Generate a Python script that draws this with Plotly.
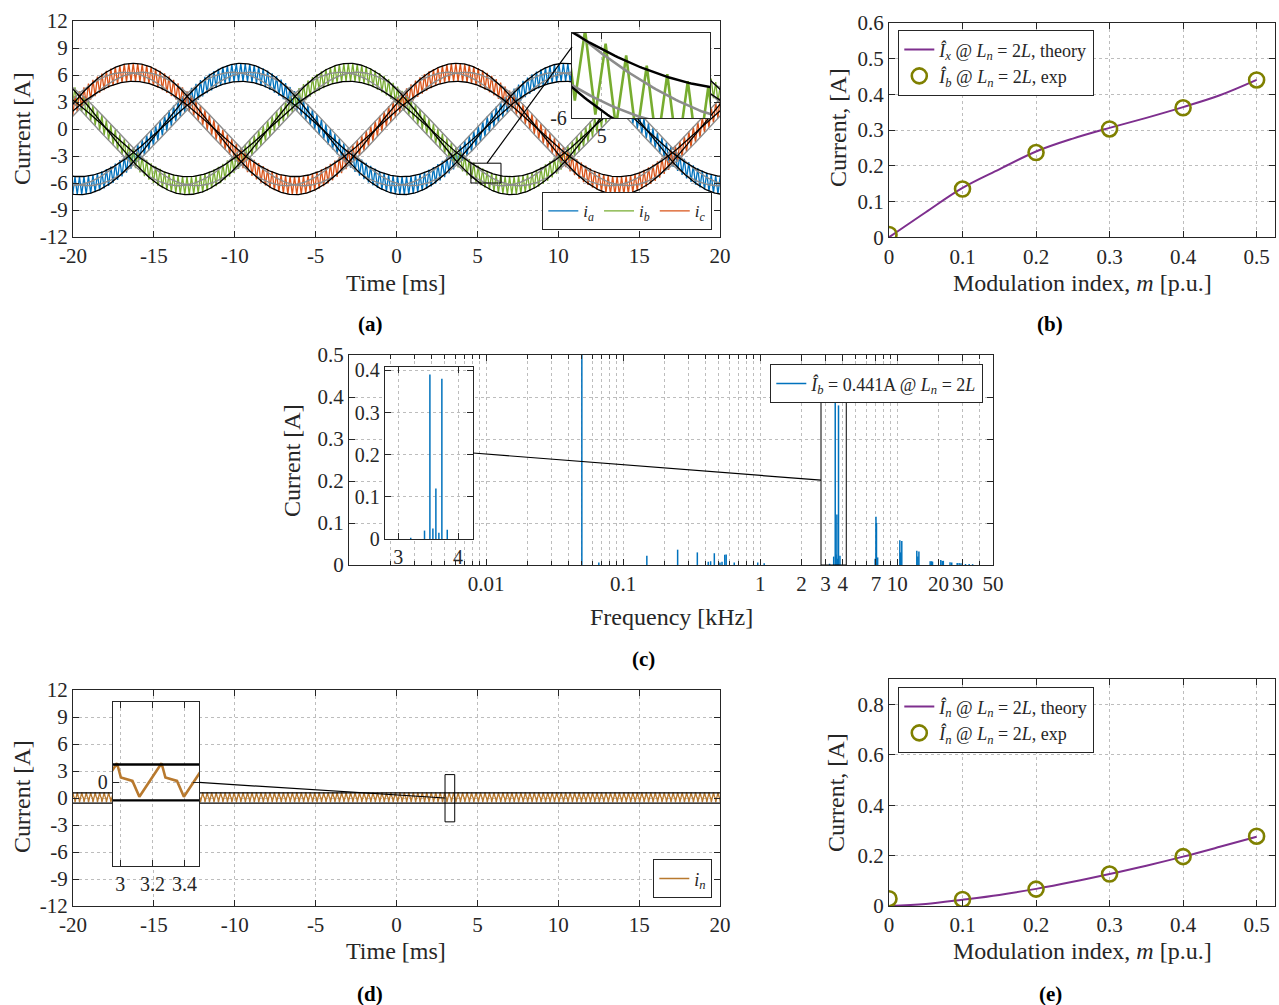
import numpy as np
import plotly.graph_objects as go

W, H = 1279, 1005
FONT = "Liberation Serif"
INK = "#262626"
GRID = "#bdbdbd"

# ---------------- (a) phase currents ----------------
PHASE_NAMES = ["<i>i</i><sub><i>a</i></sub>", "<i>i</i><sub><i>b</i></sub>", "<i>i</i><sub><i>c</i></sub>"]
PHASE_COLORS = ["#0072BD", "#77AC30", "#D95319"]
PHASE_PEAK_MS = [-9.6, -2.93, -16.27]      # time of positive peak of each phase
FUND_AMP_A = 6.3                            # fundamental amplitude
RIPPLE_AMP_A = 1.0                          # switching ripple half-band
FUND_PERIOD_MS = 20.0
SW_PERIOD_MS = 0.277
RIPPLE_SHAPE = [0.0, 1.0, 0.0, -1.0]        # one switching cycle (normalised)
GRAY_SHIFT_MS = 0.52
TIME_TICKS = [-20, -15, -10, -5, 0, 5, 10, 15, 20]
TIME_TICK_TEXT = ["-20", "-15", "-10", "-5", "0", "5", "10", "15", "20"]
CURRENT_TICKS = [-12, -9, -6, -3, 0, 3, 6, 9, 12]
CURRENT_TICK_TEXT = ["-12", "-9", "-6", "-3", "0", "3", "6", "9", "12"]
INSET_A_X = [4.6, 6.46]
INSET_A_Y = [-6.0, -3.8]

# ---------------- (b) ----------------
M_EXP = [0, 0.1, 0.2, 0.3, 0.4, 0.5]
IB_EXP = [0.008, 0.135, 0.237, 0.303, 0.362, 0.440]
M_THEORY = [0, 0.05, 0.10, 0.15, 0.20, 0.25, 0.30, 0.35, 0.40, 0.45, 0.50]
IX_THEORY = [0, 0.070, 0.138, 0.190, 0.240, 0.276, 0.306, 0.334, 0.364, 0.397, 0.440]
M_TICKS = [0, 0.1, 0.2, 0.3, 0.4, 0.5]
IB_TICKS = [0, 0.1, 0.2, 0.3, 0.4, 0.5, 0.6]

# ---------------- (c) spectrum ----------------
FREQ_KHZ = [0.05, 0.0665, 0.149, 0.25, 0.348, 0.418, 0.435, 0.463, 0.509, 0.527, 0.552, 0.565,
            0.647, 0.96, 1.07, 3.21, 3.44, 3.53, 3.58, 3.63, 3.68, 3.73, 3.82,
            6.9, 7.0, 7.06, 7.2, 10.45, 10.6, 10.8, 13.9, 14.15, 14.4,
            17.4, 17.8, 18.1, 20.8, 21.3, 21.7, 24.3, 25.0, 27.4, 28.3, 29.2, 31.5, 33.5, 35.5]
AMP_A = [6.3, 0.006, 0.022, 0.0365, 0.030, 0.008, 0.009, 0.028, 0.006, 0.008, 0.0245, 0.025,
         0.006, 0.006, 0.004, 0.003, 0.020, 0.390, 0.025, 0.120, 0.015, 0.380, 0.022,
         0.015, 0.115, 0.100, 0.018, 0.059, 0.030, 0.057, 0.034, 0.020, 0.032,
         0.009, 0.009, 0.008, 0.012, 0.0095, 0.010, 0.0063, 0.006, 0.005, 0.005, 0.004, 0.0024, 0.0025, 0.002]
FREQ_TICKS = [0.01, 0.1, 1, 2, 3, 4, 7, 10, 20, 30, 50]
FREQ_TICK_TEXT = ["0.01", "0.1", "1", "2", "3", "4", "7", "10", "20", "30", "50"]
FREQ_MINOR = [0.002, 0.003, 0.004, 0.005, 0.006, 0.007, 0.008, 0.009,
              0.02, 0.03, 0.04, 0.05, 0.06, 0.07, 0.08, 0.09,
              0.2, 0.3, 0.4, 0.5, 0.6, 0.7, 0.8, 0.9, 5, 6, 8, 9, 40]
SPEC_TICKS = [0, 0.1, 0.2, 0.3, 0.4, 0.5]
INSET_C_X = [2.78, 4.25]
INSET_C_Y = [0, 0.408]

# ---------------- (d) neutral current ----------------
NEUTRAL_CYCLE_OFFSET_MS = [0.0, 0.024, 0.061, 0.096, 0.139]
NEUTRAL_CYCLE_A = [0.62, 0.16, 0.11, 0.05, -0.46]
NEUTRAL_PERIOD_MS = 0.277
NEUTRAL_PEAK_MS = 2.98
NEUTRAL_BAND_A = [0.58, -0.58]
INSET_D_X = [2.955, 3.49]
INSET_D_Y = [-2.7, 2.6]

# ---------------- (e) ----------------
IN_EXP = [0.029, 0.026, 0.067, 0.127, 0.196, 0.277]
IN_THEORY = [0, 0.008, 0.025, 0.044, 0.068, 0.096, 0.127, 0.160, 0.196, 0.235, 0.275]
IN_TICKS = [0, 0.2, 0.4, 0.6, 0.8]

PURPLE = "#7E2F8E"
OLIVE = "#7F8000"
BROWN = "#B8792E"

# ---------------- layout boxes (pixels: x0, x1, y0, y1) ----------------
BOX = {
    "a": (73, 720, 21, 237),
    "b": (889, 1275, 22.7, 237.3),
    "c": (349, 993, 355, 565),
    "d": (73, 720, 690, 906),
    "e": (889, 1275, 679.3, 906),
    "ia": (572, 710, 33, 118),
    "ic": (385, 473, 367, 539),
    "id": (113, 199, 702, 866),
}


def dom(key):
    x0, x1, y0, y1 = BOX[key]
    return [x0 / W, x1 / W], [1 - y1 / H, 1 - y0 / H]


def to_paper(key, xr, yr, x, y, xlog=False):
    x0, x1, y0, y1 = BOX[key]
    if xlog:
        fx = (np.log10(x) - np.log10(xr[0])) / (np.log10(xr[1]) - np.log10(xr[0]))
    else:
        fx = (x - xr[0]) / (xr[1] - xr[0])
    fy = (y - yr[0]) / (yr[1] - yr[0])
    px = x0 + fx * (x1 - x0)
    py = y1 - fy * (y1 - y0)
    return px / W, 1 - py / H


fig = go.Figure()

# ---------------- (a) traces ----------------
w = 2 * np.pi / FUND_PERIOD_MS
step = SW_PERIOD_MS / len(RIPPLE_SHAPE)
t_rip = np.arange(-20.5, 20.5, step)
rip = np.resize(np.array(RIPPLE_SHAPE), len(t_rip))
t_s = np.linspace(-20.5, 20.5, 1200)

for name, col, tp in zip(PHASE_NAMES, PHASE_COLORS, PHASE_PEAK_MS):
    fig.add_trace(go.Scatter(x=t_rip, y=FUND_AMP_A * np.cos(w * (t_rip - tp)) + RIPPLE_AMP_A * rip,
                             mode="lines", line=dict(color=col, width=1.3), name=name,
                             legend="legend", xaxis="x", yaxis="y"))
for tp in PHASE_PEAK_MS:
    for sh in (GRAY_SHIFT_MS, -GRAY_SHIFT_MS):
        fig.add_trace(go.Scatter(x=t_s, y=FUND_AMP_A * np.cos(w * (t_s - tp + sh)), mode="lines",
                                 line=dict(color="#8c8c8c", width=1.4), showlegend=False,
                                 hoverinfo="skip", xaxis="x", yaxis="y"))
for tp in PHASE_PEAK_MS:
    for amp in (FUND_AMP_A + RIPPLE_AMP_A, FUND_AMP_A - RIPPLE_AMP_A):
        fig.add_trace(go.Scatter(x=t_s, y=amp * np.cos(w * (t_s - tp)), mode="lines",
                                 line=dict(color="black", width=1.3), showlegend=False,
                                 hoverinfo="skip", xaxis="x", yaxis="y"))
# zoom rectangle in (a)
fig.add_trace(go.Scatter(x=[INSET_A_X[0], INSET_A_X[1], INSET_A_X[1], INSET_A_X[0], INSET_A_X[0]],
                         y=[INSET_A_Y[0], INSET_A_Y[0], INSET_A_Y[1], INSET_A_Y[1], INSET_A_Y[0]],
                         mode="lines", line=dict(color="black", width=1), showlegend=False,
                         hoverinfo="skip", xaxis="x", yaxis="y"))

# inset (a): phase b only
tpb = PHASE_PEAK_MS[1]
fig.add_trace(go.Scatter(x=t_rip, y=FUND_AMP_A * np.cos(w * (t_rip - tpb)) + RIPPLE_AMP_A * rip,
                         mode="lines", line=dict(color=PHASE_COLORS[1], width=2.6), showlegend=False,
                         hoverinfo="skip", xaxis="x6", yaxis="y6"))
for sh in (GRAY_SHIFT_MS, -GRAY_SHIFT_MS):
    fig.add_trace(go.Scatter(x=t_s, y=FUND_AMP_A * np.cos(w * (t_s - tpb + sh)), mode="lines",
                             line=dict(color="#8c8c8c", width=2.6), showlegend=False,
                             hoverinfo="skip", xaxis="x6", yaxis="y6"))
for amp in (FUND_AMP_A + RIPPLE_AMP_A, FUND_AMP_A - RIPPLE_AMP_A):
    fig.add_trace(go.Scatter(x=t_s, y=amp * np.cos(w * (t_s - tpb)), mode="lines",
                             line=dict(color="black", width=2.4), showlegend=False,
                             hoverinfo="skip", xaxis="x6", yaxis="y6"))

# ---------------- (b) ----------------
b_theory = ("<i>Î</i><sub><i>x</i></sub> @ <i>L</i><sub><i>n</i></sub> = 2<i>L</i>, theory")
b_exp = ("<i>Î</i><sub><i>b</i></sub> @ <i>L</i><sub><i>n</i></sub> = 2<i>L</i>, exp")
fig.add_trace(go.Scatter(x=M_THEORY, y=IX_THEORY, mode="lines", line=dict(color=PURPLE, width=2, shape="spline"),
                         name=b_theory, legend="legend2", xaxis="x2", yaxis="y2"))
fig.add_trace(go.Scatter(x=M_EXP, y=IB_EXP, mode="markers",
                         marker=dict(symbol="circle-open", size=15, color=OLIVE, line=dict(width=2.6, color=OLIVE)),
                         name=b_exp, legend="legend2", xaxis="x2", yaxis="y2"))

# ---------------- (c) spectrum ----------------
sx, sy = [], []
for f, a in zip(FREQ_KHZ, AMP_A):
    sx += [f, f, None]
    sy += [0, a, None]
c_name = "<i>Î</i><sub><i>b</i></sub> = 0.441A @ <i>L</i><sub><i>n</i></sub> = 2<i>L</i>"
fig.add_trace(go.Scatter(x=sx, y=sy, mode="lines", line=dict(color="#0072BD", width=1.5),
                         name=c_name, legend="legend3", xaxis="x3", yaxis="y3"))
fig.add_trace(go.Scatter(x=[INSET_C_X[0], INSET_C_X[1], INSET_C_X[1], INSET_C_X[0], INSET_C_X[0]],
                         y=[0, 0, 0.4, 0.4, 0], mode="lines", line=dict(color="black", width=1),
                         showlegend=False, hoverinfo="skip", xaxis="x3", yaxis="y3"))
fig.add_trace(go.Scatter(x=sx, y=sy, mode="lines", line=dict(color="#0072BD", width=1.5),
                         showlegend=False, hoverinfo="skip", xaxis="x7", yaxis="y7"))

# ---------------- (d) neutral current ----------------
n_first = int(np.floor((-21 - NEUTRAL_PEAK_MS) / NEUTRAL_PERIOD_MS))
n_last = int(np.ceil((21 - NEUTRAL_PEAK_MS) / NEUTRAL_PERIOD_MS))
tn, yn = [], []
for k in range(n_first, n_last + 1):
    base = NEUTRAL_PEAK_MS + k * NEUTRAL_PERIOD_MS
    for off, v in zip(NEUTRAL_CYCLE_OFFSET_MS, NEUTRAL_CYCLE_A):
        tn.append(base + off)
        yn.append(v)
fig.add_trace(go.Scatter(x=tn, y=yn, mode="lines", line=dict(color=BROWN, width=1.3),
                         name="<i>i</i><sub><i>n</i></sub>", legend="legend4", xaxis="x4", yaxis="y4"))
for lvl in NEUTRAL_BAND_A:
    fig.add_trace(go.Scatter(x=[-20, 20], y=[lvl, lvl], mode="lines", line=dict(color="black", width=1.3),
                             showlegend=False, hoverinfo="skip", xaxis="x4", yaxis="y4"))
fig.add_trace(go.Scatter(x=[3.0, 3.6, 3.6, 3.0, 3.0], y=[-2.65, -2.65, 2.6, 2.6, -2.65], mode="lines",
                         line=dict(color="black", width=1), showlegend=False, hoverinfo="skip",
                         xaxis="x4", yaxis="y4"))
fig.add_trace(go.Scatter(x=tn, y=yn, mode="lines", line=dict(color=BROWN, width=2.6),
                         showlegend=False, hoverinfo="skip", xaxis="x8", yaxis="y8"))
for lvl in NEUTRAL_BAND_A:
    fig.add_trace(go.Scatter(x=[2.9, 3.6], y=[lvl, lvl], mode="lines", line=dict(color="black", width=2.4),
                             showlegend=False, hoverinfo="skip", xaxis="x8", yaxis="y8"))

# ---------------- (e) ----------------
e_theory = "<i>Î</i><sub><i>n</i></sub> @ <i>L</i><sub><i>n</i></sub> = 2<i>L</i>, theory"
e_exp = "<i>Î</i><sub><i>n</i></sub> @ <i>L</i><sub><i>n</i></sub> = 2<i>L</i>, exp"
fig.add_trace(go.Scatter(x=M_THEORY, y=IN_THEORY, mode="lines", line=dict(color=PURPLE, width=2, shape="spline"),
                         name=e_theory, legend="legend5", xaxis="x5", yaxis="y5"))
fig.add_trace(go.Scatter(x=M_EXP, y=IN_EXP, mode="markers",
                         marker=dict(symbol="circle-open", size=15, color=OLIVE, line=dict(width=2.6, color=OLIVE)),
                         name=e_exp, legend="legend5", xaxis="x5", yaxis="y5"))


# ---------------- axes ----------------
def axis(key, which, rng, tickvals, ticktext=None, size=21, **kw):
    dx, dy = dom(key)
    d = dict(domain=dx if which == "x" else dy, range=rng, showline=True, linecolor=INK, linewidth=1.3,
             mirror="ticks", ticks="inside", ticklen=6, tickcolor=INK, tickwidth=1.1,
             showgrid=True, gridcolor=GRID, griddash="dot", gridwidth=1, zeroline=False,
             tickmode="array", tickvals=tickvals, fixedrange=True, automargin=False,
             tickfont=dict(family=FONT, size=size, color=INK))
    if ticktext is not None:
        d["ticktext"] = ticktext
    d.update(kw)
    return d


lay = dict(
    width=W, height=H, margin=dict(l=0, r=0, t=0, b=0, pad=0, autoexpand=False), autosize=False,
    paper_bgcolor="white", plot_bgcolor="white",
    font=dict(family=FONT, color=INK),
    xaxis=axis("a", "x", [-20, 20], TIME_TICKS, TIME_TICK_TEXT, anchor="y"),
    yaxis=axis("a", "y", [-12, 12], CURRENT_TICKS, CURRENT_TICK_TEXT, anchor="x"),
    xaxis2=axis("b", "x", [0, 0.525], M_TICKS, anchor="y2"),
    yaxis2=axis("b", "y", [0, 0.6], IB_TICKS, anchor="x2"),
    xaxis3=axis("c", "x", [-3, np.log10(50)], FREQ_TICKS, FREQ_TICK_TEXT, anchor="y3", type="log",
                minor=dict(tickmode="array", tickvals=FREQ_MINOR, ticks="inside", ticklen=4, tickcolor=INK,
                           showgrid=True, gridcolor=GRID, griddash="dot", gridwidth=1)),
    yaxis3=axis("c", "y", [0, 0.5], SPEC_TICKS, anchor="x3"),
    xaxis4=axis("d", "x", [-20, 20], TIME_TICKS, TIME_TICK_TEXT, anchor="y4"),
    yaxis4=axis("d", "y", [-12, 12], CURRENT_TICKS, CURRENT_TICK_TEXT, anchor="x4"),
    xaxis5=axis("e", "x", [0, 0.525], M_TICKS, anchor="y5"),
    yaxis5=axis("e", "y", [0, 0.9], IN_TICKS, anchor="x5"),
    xaxis6=axis("ia", "x", INSET_A_X, [5], ["5"], anchor="y6", size=20),
    yaxis6=axis("ia", "y", INSET_A_Y, [-6], ["-6"], anchor="x6", size=20),
    xaxis7=axis("ic", "x", INSET_C_X, [3, 4], anchor="y7", size=20),
    yaxis7=axis("ic", "y", INSET_C_Y, [0, 0.1, 0.2, 0.3, 0.4], anchor="x7", size=20),
    xaxis8=axis("id", "x", INSET_D_X, [3, 3.2, 3.4], anchor="y8", size=20),
    yaxis8=axis("id", "y", INSET_D_Y, [0], anchor="x8", size=20),
)


def leg(x, y, xa, ya, orient="v", size=18, **kw):
    d = dict(x=x, y=y, xanchor=xa, yanchor=ya, orientation=orient, bgcolor="white",
             bordercolor=INK, borderwidth=1.3, font=dict(family=FONT, size=size, color=INK),
             tracegroupgap=0, itemwidth=30)
    d.update(kw)
    return d


lay["legend"] = leg(712 / W, 1 - 230 / H, "right", "bottom", "h", size=17)
lay["legend2"] = leg(898 / W, 1 - 30 / H, "left", "top")
lay["legend3"] = leg(983 / W, 1 - 364 / H, "right", "top")
lay["legend4"] = leg(712 / W, 1 - 898 / H, "right", "bottom")
lay["legend5"] = leg(898 / W, 1 - 687 / H, "left", "top")

fig.update_layout(**lay)

# white covers under insets (hide main plot beneath)
shapes = []
for xr, yr, xa, ya in [(INSET_A_X, INSET_A_Y, "x6", "y6"), (INSET_C_X, INSET_C_Y, "x7", "y7"),
                       (INSET_D_X, INSET_D_Y, "x8", "y8")]:
    shapes.append(dict(type="rect", xref=xa, yref=ya, x0=xr[0], x1=xr[1], y0=yr[0], y1=yr[1],
                       fillcolor="white", line=dict(width=0), layer="below"))

# connector lines
p1 = to_paper("a", [-20, 20], [-12, 12], 5.6, INSET_A_Y[1])
p2 = to_paper("ia", INSET_A_X, INSET_A_Y, INSET_A_X[0], -4.16)
p3 = to_paper("ic", INSET_C_X, INSET_C_Y, INSET_C_X[1], 0.204)
p4 = to_paper("c", [0.001, 50], [0, 0.5], INSET_C_X[0], 0.202, xlog=True)
p5 = to_paper("id", INSET_D_X, INSET_D_Y, INSET_D_X[1], 0.0)
p6 = to_paper("d", [-20, 20], [-12, 12], 3.0, 0.0)
for pa, pb in [(p1, p2), (p3, p4), (p5, p6)]:
    shapes.append(dict(type="line", xref="paper", yref="paper", x0=pa[0], y0=pa[1], x1=pb[0], y1=pb[1],
                       line=dict(color="black", width=1.2), layer="above"))
fig.update_layout(shapes=shapes)

# axis titles and captions
ann = []
TITLE = dict(family=FONT, size=24, color=INK)


def txt(x, y, s, rot=0, font=TITLE):
    ann.append(dict(x=x / W, y=1 - y / H, xref="paper", yref="paper", text=s, showarrow=False,
                    xanchor="center", yanchor="middle", textangle=rot, font=font))


txt(396, 283, "Time [ms]")
txt(22, 129, "Current [A]", -90)
txt(1082, 283, "Modulation index, <i>m</i> [p.u.]")
txt(838, 128, "Current, [A]", -90)
txt(671, 617, "Frequency [kHz]")
txt(292, 461, "Current [A]", -90)
txt(396, 951, "Time [ms]")
txt(22, 797, "Current [A]", -90)
txt(1082, 951, "Modulation index, <i>m</i> [p.u.]")
txt(836, 793, "Current, [A]", -90)
CAP = dict(family=FONT, size=21, color="black")
txt(370, 324, "<b>(a)</b>", font=CAP)
txt(1050, 324, "<b>(b)</b>", font=CAP)
txt(643, 659, "<b>(c)</b>", font=CAP)
txt(370, 994, "<b>(d)</b>", font=CAP)
txt(1050, 994, "<b>(e)</b>", font=CAP)
fig.update_layout(annotations=ann)

fig.write_html("out.html")
